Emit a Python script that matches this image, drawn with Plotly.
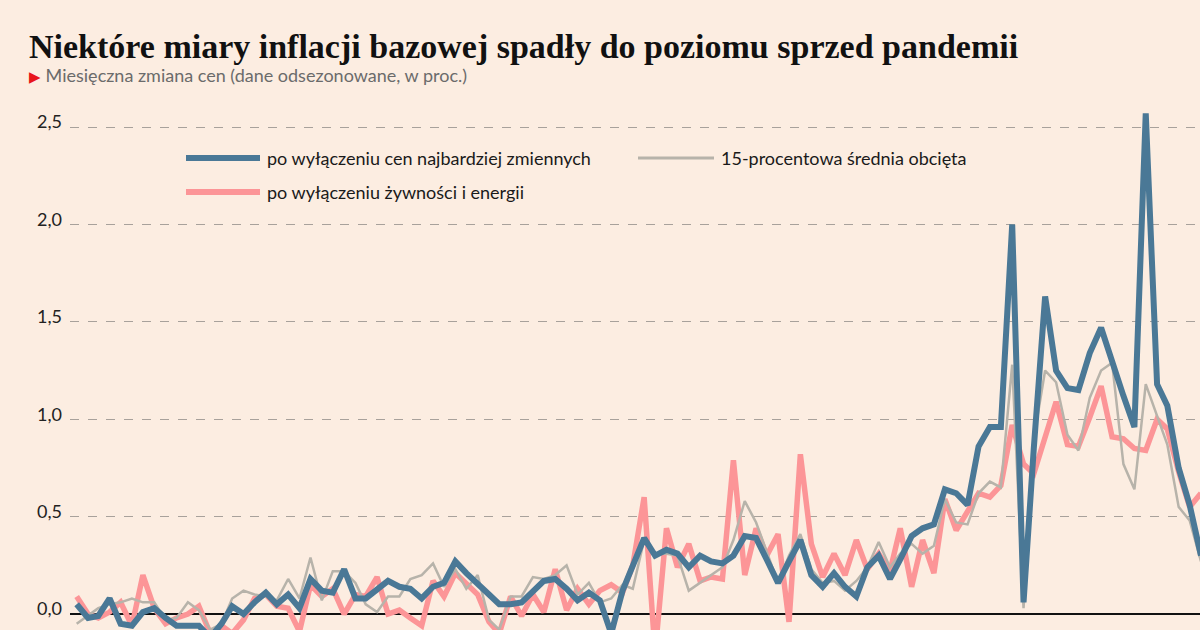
import pandas as pd
import plotly.graph_objects as go

# Monthly change, seasonally adjusted (%), Jan 2015 onwards
months = pd.date_range("2015-01-01", periods=102, freq="MS")

bez_zmiennych = [  # po wyłączeniu cen najbardziej zmiennych
    0.05, -0.02, -0.01, 0.08, -0.05, -0.06, 0.01, 0.03, -0.02, -0.06,
    -0.06, -0.06, -0.12, -0.05, 0.04, 0.00, 0.06, 0.11, 0.05, 0.10,
    0.03, 0.18, 0.12, 0.11, 0.23, 0.08, 0.08, 0.13, 0.17, 0.14,
    0.13, 0.08, 0.14, 0.16, 0.27, 0.21, 0.16, 0.10, 0.05, 0.05,
    0.06, 0.12, 0.17, 0.18, 0.13, 0.07, 0.11, 0.07, -0.10, 0.12,
    0.25, 0.39, 0.30, 0.33, 0.31, 0.24, 0.30, 0.27, 0.26, 0.30,
    0.40, 0.39, 0.28, 0.16, 0.27, 0.38, 0.20, 0.14, 0.21, 0.14,
    0.09, 0.24, 0.30, 0.18, 0.28, 0.40, 0.44, 0.46, 0.64, 0.62,
    0.56, 0.86, 0.96, 0.96, 2.00, 0.06, 0.85, 1.63, 1.25, 1.16,
    1.15, 1.34, 1.47, 1.29, 1.12, 0.96, 2.57, 1.18, 1.07, 0.75,
    0.56, 0.30,
]

srednia_obcieta = [  # 15-procentowa średnia obcięta
    -0.05, -0.01, 0.03, 0.05, 0.06, 0.08, 0.06, 0.06, -0.03, -0.02,
    0.06, 0.02, -0.08, -0.05, 0.08, 0.12, 0.10, 0.09, 0.07, 0.18,
    0.08, 0.29, 0.07, 0.22, 0.22, 0.16, 0.05, 0.01, 0.09, 0.09,
    0.18, 0.20, 0.26, 0.14, 0.23, 0.13, 0.20, -0.03, -0.08, 0.09,
    0.09, 0.19, 0.18, 0.20, 0.25, 0.10, 0.16, 0.06, 0.08, 0.15,
    0.13, 0.38, 0.31, 0.31, 0.30, 0.12, 0.16, 0.20, 0.24, 0.38,
    0.58, 0.47, 0.32, 0.16, 0.30, 0.41, 0.23, 0.16, 0.17, 0.12,
    0.17, 0.24, 0.37, 0.24, 0.31, 0.36, 0.31, 0.35, 0.59, 0.47,
    0.46, 0.62, 0.68, 0.65, 1.28, 0.03, 0.90, 1.25, 1.19, 0.92,
    0.84, 1.11, 1.25, 1.29, 0.77, 0.64, 1.18, 1.02, 0.87, 0.55,
    0.48, 0.27,
]

bez_zywnosci_energii = [  # po wyłączeniu żywności i energii
    0.09, 0.00, -0.02, 0.01, 0.06, -0.06, 0.20, 0.03, -0.05, -0.02,
    0.00, 0.04, -0.10, -0.06, -0.10, -0.03, 0.08, 0.10, 0.04, 0.03,
    -0.09, 0.15, 0.09, 0.13, 0.00, 0.10, 0.09, 0.19, 0.00, 0.02,
    -0.02, -0.06, 0.17, 0.09, 0.21, 0.16, 0.10, -0.04, -0.10, 0.09,
    -0.01, 0.10, 0.01, 0.23, 0.02, 0.13, 0.05, 0.12, 0.15, 0.11,
    0.25, 0.60, -0.20, 0.44, 0.24, 0.36, 0.17, 0.19, 0.18, 0.79,
    0.20, 0.44, 0.30, 0.41, -0.04, 0.82, 0.36, 0.19, 0.31, 0.20,
    0.38, 0.23, 0.31, 0.22, 0.44, 0.14, 0.38, 0.21, 0.59, 0.43,
    0.53, 0.62, 0.60, 0.66, 0.97, 0.77, 0.72, 0.90, 1.09, 0.87,
    0.86, 1.01, 1.17, 0.91, 0.90, 0.85, 0.84, 1.00, 0.95, 0.73,
    0.55, 0.62,
]

y_ticks = [0, 0.5, 1.0, 1.5, 2.0, 2.5]

series_names = [
    "po wyłączeniu cen najbardziej zmiennych",
    "15-procentowa średnia obcięta",
    "po wyłączeniu żywności i energii",
]

BLUE = "#4a7896"
GRAY = "#b7b3aa"
PINK = "#fc9597"
BG = "#fcede1"

fig = go.Figure()
fig.add_trace(go.Scatter(x=months, y=bez_zywnosci_energii, mode="lines",
                         line=dict(color=PINK, width=5.5), name=series_names[2]))
fig.add_trace(go.Scatter(x=months, y=srednia_obcieta, mode="lines",
                         line=dict(color=GRAY, width=2.5), name=series_names[1]))
fig.add_trace(go.Scatter(x=months, y=bez_zmiennych, mode="lines",
                         line=dict(color=BLUE, width=6), name=series_names[0]))

# axis window
step = pd.Timedelta(days=30.44)
x_start = months[0] - 0.6 * step
x_end = months[100] + 0.93 * step

W, H = 1200, 630
L, R, T, B = 70, 0, 100, 0
pw, ph = W - L - R, H - T - B

def px(x):
    return (x - L) / pw

def py(y):
    return (H - B - y) / ph

shapes = []
annotations = []
legend_items = [
    (186, 260, 158, BLUE, 6, series_names[0]),
    (638, 714, 158, GRAY, 3, series_names[1]),
    (186, 260, 192, PINK, 6, series_names[2]),
]
for x0, x1, yy, col, w, label in legend_items:
    shapes.append(dict(type="line", xref="paper", yref="paper",
                       x0=px(x0), x1=px(x1), y0=py(yy), y1=py(yy),
                       line=dict(color=col, width=w)))
    annotations.append(dict(xref="paper", yref="paper", x=px(x1 + 5), y=py(yy),
                            xanchor="left", yanchor="middle", showarrow=False,
                            text=label, font=dict(family="Lato", size=18, color="#1a1a1a")))

annotations.append(dict(
    xref="paper", yref="paper", x=px(27), y=py(75), xanchor="left", yanchor="middle",
    showarrow=False,
    text="<span style='color:#e8151b;font-size:15px'>▶</span> Miesięczna zmiana cen (dane odsezonowane, w proc.)",
    font=dict(family="Lato", size=18, color="#6b6b6b")))

fig.update_layout(
    width=W, height=H,
    margin=dict(l=L, r=R, t=T, b=B),
    paper_bgcolor=BG, plot_bgcolor=BG,
    showlegend=False,
    separators=", ",
    title=dict(text="<b>Niektóre miary inflacji bazowej spadły do poziomu sprzed pandemii</b>",
               xref="container", yref="container", x=29 / W, xanchor="left",
               y=1 - 46 / H, yanchor="middle",
               font=dict(family="Liberation Serif", size=34, color="#111111")),
    shapes=shapes,
    annotations=annotations,
    xaxis=dict(range=[x_start, x_end], showticklabels=False, showgrid=False,
               zeroline=False, showline=False, ticks=""),
    yaxis=dict(range=[-0.082, 2.639], tickvals=y_ticks, tickformat=".1f",
               showgrid=True, gridcolor="#a8a19b", griddash="dash", gridwidth=1,
               zeroline=True, zerolinecolor="#111111", zerolinewidth=1.5,
               showline=False, ticks="", ticklabelstandoff=7, ticklabelshift=-5,
               tickfont=dict(family="Lato", size=18, color="#222222")),
)

fig.write_html("out.html",
               config={"displayModeBar": False},
               post_script="document.body.style.margin='0';document.body.style.overflow='hidden';")
